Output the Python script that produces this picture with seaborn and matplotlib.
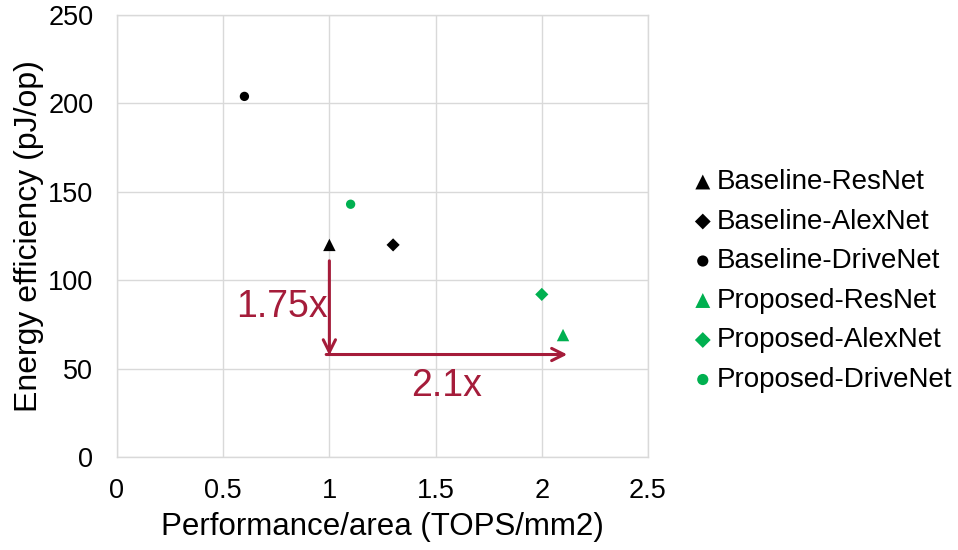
import matplotlib
matplotlib.use("Agg")
import matplotlib.pyplot as plt
import seaborn as sns
import pandas as pd

# Performance/area vs energy efficiency for baseline and proposed designs
labels = ["Baseline-ResNet", "Baseline-AlexNet", "Baseline-DriveNet",
          "Proposed-ResNet", "Proposed-AlexNet", "Proposed-DriveNet"]
perf_area = [1.0, 1.3, 0.6, 2.1, 2.0, 1.1]
energy = [120, 120, 204, 69, 92, 143]
design = ["Baseline"] * 3 + ["Proposed"] * 3
network = ["ResNet", "AlexNet", "DriveNet"] * 2

x_ticks = [0, 0.5, 1, 1.5, 2, 2.5]
y_ticks = [0, 50, 100, 150, 200, 250]

df = pd.DataFrame({"label": labels, "perf": perf_area, "energy": energy,
                   "design": design, "network": network})

sns.set_theme(style="white")
plt.rcParams["font.family"] = ["Liberation Sans", "DejaVu Sans"]
plt.rcParams["text.color"] = "black"
plt.rcParams["axes.labelcolor"] = "black"

fig = plt.figure(figsize=(9.58, 5.5), dpi=100)
ax = fig.add_axes([0.1221, 0.169, 0.5543, 0.8036])

palette = {lab: ("black" if d == "Baseline" else "#00B050") for lab, d in zip(labels, design)}
marker_map = {"ResNet": "^", "AlexNet": "D", "DriveNet": "o"}
markers = {lab: marker_map[n] for lab, n in zip(labels, network)}
sizes = {"ResNet": 80, "AlexNet": 45, "DriveNet": 45}

for lab, n in zip(labels, network):
    sub = df[df["label"] == lab]
    sns.scatterplot(data=sub, x="perf", y="energy", color=palette[lab],
                    marker=markers[lab], s=sizes[n], edgecolor="none",
                    label=lab, ax=ax, zorder=3)

ax.set_xlim(0, 2.5)
ax.set_ylim(0, 250)
ax.set_xticks(x_ticks)
ax.set_yticks(y_ticks)
ax.set_xticklabels([f"{t:g}" for t in x_ticks])
ax.grid(True, color="#D9D9D9", linewidth=1)
for sp in ax.spines.values():
    sp.set_color("#D9D9D9")
    sp.set_linewidth(1)
ax.tick_params(axis="both", labelsize=19.5, colors="black", length=0)
ax.tick_params(axis="x", pad=15)
ax.tick_params(axis="y", pad=17)
ax.set_xlabel("Performance/area (TOPS/mm2)", fontsize=22.5, labelpad=6)
ax.set_ylabel("Energy efficiency (pJ/op)", fontsize=23, labelpad=3)

# Improvement arrows
red = "#A51C3A"
ax.annotate("", xy=(1.0, 57.5), xytext=(1.0, 111),
            arrowprops=dict(arrowstyle="->", color=red, lw=2.2,
                            mutation_scale=22, shrinkA=0, shrinkB=0))
ax.annotate("", xy=(2.12, 58), xytext=(0.985, 58),
            arrowprops=dict(arrowstyle="->", color=red, lw=2.2,
                            mutation_scale=22, shrinkA=0, shrinkB=0))
ax.text(0.99, 85, "1.75x", color=red, fontsize=27, ha="right", va="center")
ax.text(1.55, 40, "2.1x", color=red, fontsize=27, ha="center", va="center")

ax.legend_.remove()
handles, hl = ax.get_legend_handles_labels()
fig.legend(handles, hl, loc="center left", bbox_to_anchor=(0.693, 0.489),
           frameon=False, fontsize=20, handletextpad=0.0, handlelength=1.0,
           labelspacing=0.486, markerscale=1.2)

fig.savefig("out.png", dpi=100)
